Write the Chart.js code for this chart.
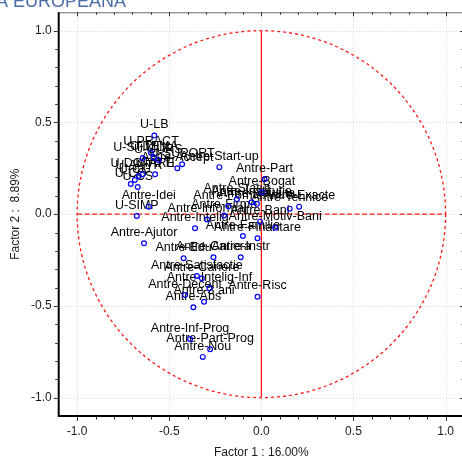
<!DOCTYPE html>
<html>
<head>
<meta charset="utf-8">
<script src="https://cdn.jsdelivr.net/npm/chart.js@4.4.1/dist/chart.umd.min.js"></script>
<style>
  html, body { margin: 0; padding: 0; background: #fff; overflow: hidden; }
  #wrap { position: relative; width: 464px; height: 457px; }
</style>
</head>
<body>
<div id="wrap"><canvas id="chart" width="464" height="457"></canvas></div>
<script>
// variable names and their loadings on the two factors
const varNames = [
    'U-LB', 'U-PRACT', 'U-STIMUL', 'U-TEMA', 'U-CURS', 'U-SUPORT', 'Antre-Accept', 'U-ATTI',
    'U-DOTARE', 'U-ANTR', 'U-CG', 'U-CO', 'U-CS', 'Antre-Idei', 'U-SIMP', 'Antre-Ajutor',
    'Antre-Start-up', 'Antre-Part', 'Antre-Bogat', 'Antre-Statut', 'Antre-Institutie', 'Antre-Reusita',
    'Antre-Forme', 'Antre-Tehnice', 'Antre-Exacte', 'Antre-Firme', 'Antre-Informal', 'Antre-Bani',
    'Antre-Intelig', 'Antre-Motiv-Bani', 'Antre-Familie', 'Antre-Finantare', 'Antre-Edu', 'Antre-Cariera',
    'Antre-Instr', 'Antre-Satisfactie', 'Antre-Cariere', 'Antre-Intelig-Inf', 'Antre-Decent', 'Antre-Risc',
    'Antre-3 ani', 'Antre-Abs', 'Antre-Inf-Prog', 'Antre-Part-Prog', 'Antre-Nou'
];
const factor1 = [
    -0.581, -0.599, -0.644, -0.582, -0.559, -0.430, -0.456, -0.577,
    -0.644, -0.665, -0.687, -0.709, -0.671, -0.611, -0.676, -0.637,
    -0.228, 0.017, 0.003, -0.133, -0.053, -0.024,
    -0.179, 0.154, 0.205, -0.202, -0.294, -0.007,
    -0.360, 0.075, -0.100, -0.021, -0.422, -0.260,
    -0.112, -0.350, -0.323, -0.282, -0.414, -0.021,
    -0.311, -0.369, -0.387, -0.278, -0.318
];
const factor2 = [
    0.428, 0.335, 0.306, 0.308, 0.295, 0.272, 0.250, 0.217,
    0.217, 0.208, 0.186, 0.164, 0.148, 0.041, -0.010, -0.159,
    0.256, 0.190, 0.119, 0.081, 0.065, 0.056,
    0.043, 0.030, 0.041, -0.007, -0.029, -0.041,
    -0.077, -0.074, -0.119, -0.131, -0.240, -0.235,
    -0.235, -0.337, -0.349, -0.404, -0.440, -0.450,
    -0.477, -0.507, -0.680, -0.736, -0.778
];
const tickValues = [-1.0, -0.5, 0.0, 0.5, 1.0];
const axisMin = -1.1;
const axisMax = 1.1;

const FONT = '"Liberation Sans", Arial, sans-serif';

const loadingPlot = {
    id: 'loadingPlot',
    beforeDatasetsDraw(chart) {
        const { ctx, chartArea: a, scales: { x, y } } = chart;
        ctx.save();

        // dotted grid at the major ticks
        ctx.strokeStyle = '#d4d4d4';
        ctx.lineWidth = 1;
        ctx.setLineDash([1, 2]);
        tickValues.forEach(v => {
            const px = Math.round(x.getPixelForValue(v)) + 0.5;
            ctx.beginPath(); ctx.moveTo(px, a.top); ctx.lineTo(px, a.bottom); ctx.stroke();
            const py = Math.round(y.getPixelForValue(v)) + 0.5;
            ctx.beginPath(); ctx.moveTo(a.left, py); ctx.lineTo(a.right, py); ctx.stroke();
        });

        // unit circle and the two red axes
        const cx = x.getPixelForValue(0), cy = y.getPixelForValue(0);
        const rx = x.getPixelForValue(1) - cx, ry = cy - y.getPixelForValue(1);
        ctx.strokeStyle = '#ff1a1a';
        ctx.lineWidth = 1.3;
        ctx.setLineDash([3, 3]);
        ctx.beginPath(); ctx.ellipse(cx, cy, rx, ry, 0, 0, Math.PI * 2); ctx.stroke();
        ctx.setLineDash([5, 2.5]);
        ctx.beginPath(); ctx.moveTo(x.getPixelForValue(-1), cy); ctx.lineTo(x.getPixelForValue(1), cy); ctx.stroke();
        ctx.setLineDash([]);
        ctx.beginPath(); ctx.moveTo(cx, y.getPixelForValue(1)); ctx.lineTo(cx, y.getPixelForValue(-1)); ctx.stroke();

        // point labels, centred above each point
        ctx.fillStyle = '#000';
        ctx.font = '12.5px ' + FONT;
        ctx.textAlign = 'center';
        ctx.textBaseline = 'middle';
        chart.getDatasetMeta(0).data.forEach((pt, i) => {
            ctx.fillText(varNames[i], pt.x, pt.y - 10.7);
        });
        ctx.restore();
    },
    afterDraw(chart) {
        const { ctx, chartArea: a, scales: { x, y } } = chart;
        ctx.save();

        // frame
        ctx.strokeStyle = '#6a6a6a';
        ctx.lineWidth = 1;
        ctx.beginPath(); ctx.moveTo(a.left, a.top + 0.5); ctx.lineTo(a.right, a.top + 0.5); ctx.stroke();
        ctx.strokeStyle = '#000';
        ctx.lineWidth = 2;
        ctx.beginPath();
        ctx.moveTo(a.left, a.top); ctx.lineTo(a.left, a.bottom); ctx.lineTo(a.right, a.bottom);
        ctx.stroke();

        // major and minor tick marks every 0.1
        ctx.lineWidth = 1;
        ctx.strokeStyle = '#333';
        for (let k = -10; k <= 10; k++) {
            const v = k / 10;
            const len = k % 5 === 0 ? 4 : 2.5;
            const px = Math.round(x.getPixelForValue(v)) + 0.5;
            const py = Math.round(y.getPixelForValue(v)) + 0.5;
            ctx.beginPath();
            ctx.moveTo(px, a.bottom + 1); ctx.lineTo(px, a.bottom + 1 + len);
            ctx.moveTo(px, a.top); ctx.lineTo(px, a.top + len);
            ctx.moveTo(a.left - 1, py); ctx.lineTo(a.left - 1 - len, py);
            ctx.moveTo(a.right, py); ctx.lineTo(a.right - len, py);
            ctx.stroke();
        }

        // clipped heading at the very top
        ctx.fillStyle = '#4a6ea9';
        ctx.font = '18px ' + FONT;
        ctx.textAlign = 'left';
        ctx.textBaseline = 'alphabetic';
        ctx.fillText('A EUROPEANA', -4, 7.3);
        ctx.restore();
    }
};

const tickFont = { family: FONT, size: 12 };

new Chart(document.getElementById('chart'), {
    type: 'scatter',
    data: {
        datasets: [{
            data: factor1.map((v, i) => ({ x: v, y: factor2[i] })),
            borderColor: '#0000ff',
            backgroundColor: 'rgba(0,0,0,0)',
            borderWidth: 1.2,
            pointRadius: 2.4
        }]
    },
    options: {
        responsive: false,
        animation: false,
        layout: { autoPadding: false, padding: { top: 12.3, left: 0, right: 0, bottom: 0 } },
        plugins: { legend: { display: false }, tooltip: { enabled: false } },
        scales: {
            x: {
                type: 'linear',
                min: axisMin,
                max: axisMax,
                afterBuildTicks: s => { s.ticks = tickValues.map(v => ({ value: v })); },
                afterFit: s => { s.height = 41; s.paddingLeft = 0; s.paddingRight = 0; },
                grid: { display: false, drawTicks: false },
                border: { display: false },
                ticks: { color: '#1a1a1a', font: tickFont, padding: 8, maxRotation: 0, autoSkip: false,
                         callback: v => v.toFixed(1) },
                title: { display: true, text: 'Factor 1 : 16.00%', color: '#1a1a1a',
                         font: { family: FONT, size: 12, lineHeight: 1 }, padding: { top: 0, bottom: -1.5 } }
            },
            y: {
                type: 'linear',
                min: axisMin,
                max: axisMax,
                afterBuildTicks: s => { s.ticks = tickValues.map(v => ({ value: v })); },
                afterFit: s => { s.width = 58.7; s.paddingTop = 0; s.paddingBottom = 0; },
                grid: { display: false, drawTicks: false },
                border: { display: false },
                ticks: { color: '#1a1a1a', font: tickFont, padding: 7, autoSkip: false,
                         callback: v => v.toFixed(1) },
                title: { display: true, text: 'Factor 2 :  8.89%', color: '#1a1a1a',
                         font: { family: FONT, size: 12, lineHeight: 1 }, padding: { top: 10, bottom: 0 } }
            }
        }
    },
    plugins: [loadingPlot]
});
</script>
</body>
</html>
